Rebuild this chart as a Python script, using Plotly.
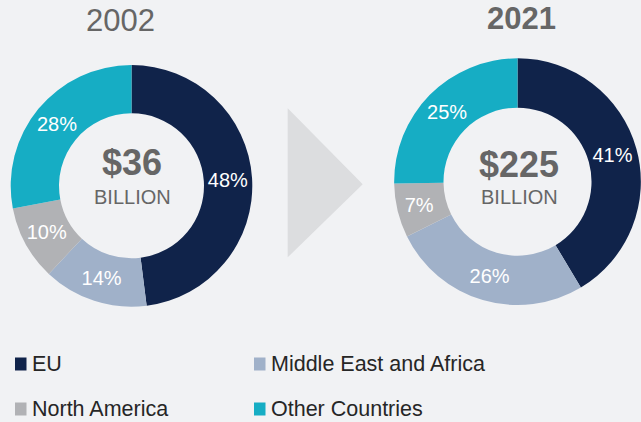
import plotly.graph_objects as go

W, H = 641, 422

categories = ["EU", "Middle East and Africa", "North America", "Other Countries"]
colors = ["#10234a", "#a0b1c9", "#b1b2b5", "#16adc4"]
values_2002 = [48, 14, 10, 28]
values_2021 = [41, 26, 7, 25]
years = ["2002", "2021"]
totals = ["$36", "$225"]
unit = "BILLION"

BG = "#f1f2f4"
GRAY = "#666666"
FONT = "Liberation Sans, Arial, sans-serif"


def px(x):
    return x / W


def py(y):
    return 1 - y / H


fig = go.Figure()

pie_domains = [
    dict(x=[px(10.7), px(252.3)], y=[py(306.7), py(65)]),
    dict(x=[px(394), px(641)], y=[py(305), py(58.3)]),
]

for vals, dom in zip([values_2002, values_2021], pie_domains):
    fig.add_trace(go.Pie(
        labels=categories,
        values=vals,
        text=[f"{v}%" for v in vals],
        textinfo="text",
        textposition="inside",
        insidetextorientation="horizontal",
        insidetextfont=dict(family=FONT, size=20, color="white"),
        marker=dict(colors=colors, line=dict(width=0)),
        hole=0.6,
        sort=False,
        direction="clockwise",
        rotation=0,
        domain=dom,
        showlegend=False,
        hoverinfo="label+value",
    ))

annotations = []
# Year titles
title_pos = [(120, 20, False), (521.5, 19, True)]
for yr, (x, y, bold) in zip(years, title_pos):
    annotations.append(dict(
        x=px(x), y=py(y), xref="paper", yref="paper", xanchor="center", yanchor="middle",
        text=f"<b>{yr}</b>" if bold else yr, showarrow=False,
        font=dict(family=FONT, size=31, color=GRAY),
    ))

# Center totals
centers = [(132, 163, 197), (519, 164, 197)]
for tot, (x, y1, y2) in zip(totals, centers):
    annotations.append(dict(
        x=px(x), y=py(y1), xref="paper", yref="paper", xanchor="center", yanchor="middle",
        text=f"<b>{tot}</b>", showarrow=False,
        font=dict(family=FONT, size=36, color=GRAY),
    ))
    annotations.append(dict(
        x=px(x), y=py(y2), xref="paper", yref="paper", xanchor="center", yanchor="middle",
        text=unit, showarrow=False,
        font=dict(family=FONT, size=20, color=GRAY),
    ))

shapes = []
# Arrow triangle between the donuts
shapes.append(dict(
    type="path", xref="paper", yref="paper",
    path=f"M {px(287.7)} {py(108.3)} L {px(362.7)} {py(184.3)} L {px(287.7)} {py(257.3)} Z",
    fillcolor="#dcdddf", line=dict(width=0), layer="below",
))

# Custom legend (2 columns x 2 rows)
leg_cols = [15, 254]
leg_rows = [364, 409]
for i, (cat, col) in enumerate(zip(categories, colors)):
    cx = leg_cols[i % 2]
    cy = leg_rows[i // 2]
    shapes.append(dict(
        type="rect", xref="paper", yref="paper",
        x0=px(cx), x1=px(cx + 11.5), y0=py(cy - 6.5), y1=py(cy + 6.5),
        fillcolor=col, line=dict(width=0),
    ))
    annotations.append(dict(
        x=px(cx + 15), y=py(cy), xref="paper", yref="paper", xanchor="left", yanchor="middle",
        text=cat, showarrow=False,
        font=dict(family=FONT, size=21.5, color="#262626"),
    ))

fig.update_layout(
    width=W, height=H,
    margin=dict(l=0, r=0, t=0, b=0),
    paper_bgcolor=BG, plot_bgcolor=BG,
    annotations=annotations,
    shapes=shapes,
    showlegend=False,
)

fig.write_html(
    "out.html",
    post_script="document.body.style.margin='0';document.body.style.background='%s';" % BG,
    config={"displayModeBar": False},
)
